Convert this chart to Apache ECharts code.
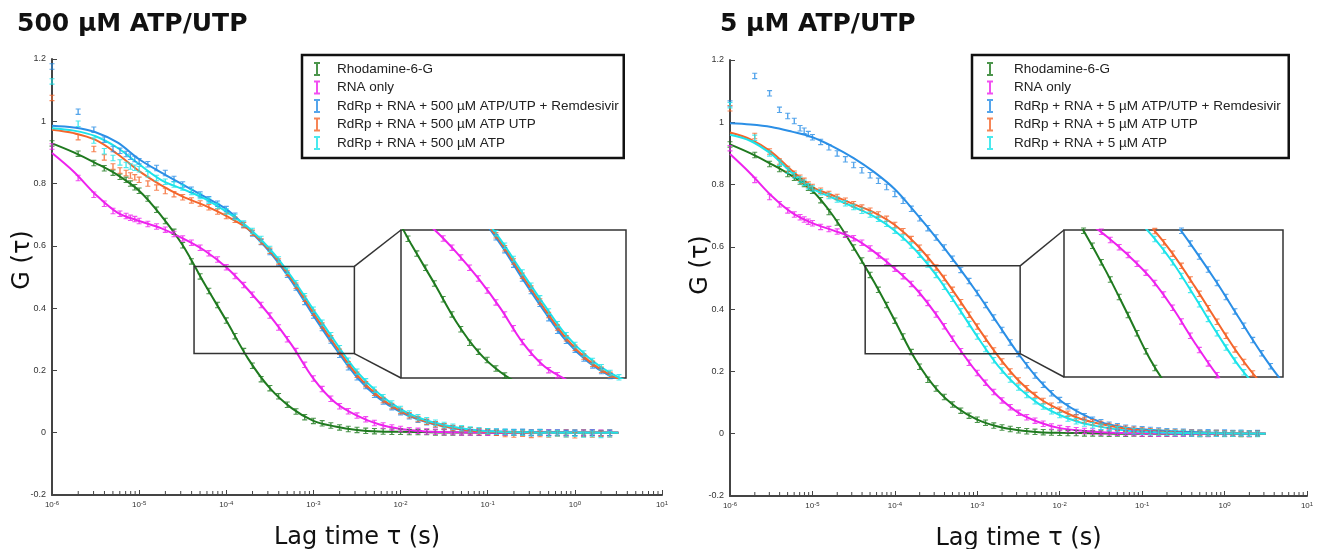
<!DOCTYPE html>
<html><head><meta charset="utf-8">
<script src="https://cdn.jsdelivr.net/npm/echarts@6/dist/echarts.min.js"></script>
<style>html,body{margin:0;padding:0;background:#fff}#c{width:1322px;height:549px}</style>
</head><body><div id="c"></div><script>
// ---- data (x = log10 of lag time in s) ----
const lagExp = [-6,-5.7,-5.52,-5.4,-5.3,-5.22,-5.15,-5.1,-5.05,-5,-4.9,-4.8,-4.7,-4.6,-4.5,-4.4,-4.3,-4.2,-4.1,-4,-3.9,-3.8,-3.7,-3.6,-3.5,-3.4,-3.3,-3.2,-3.1,-3,-2.9,-2.8,-2.7,-2.6,-2.5,-2.4,-2.3,-2.2,-2.1,-2,-1.9,-1.8,-1.7,-1.6,-1.5,-1.4,-1.3,-1.2,-1.1,-1,-0.9,-0.8,-0.7,-0.6,-0.5,-0.4,-0.3,-0.2,-0.1,0,0.1,0.2,0.3,0.4];
const fitExp = [-6,-5.75,-5.5,-5.25,-5,-4.75,-4.5,-4.25,-4,-3.75,-3.5,-3.25,-3,-2.75,-2.5,-2.25,-2,-1.75,-1.5,-1.25,-1,-0.5,0,0.5];
const xTickExp = [-6,-5,-4,-3,-2,-1,0,1];
const yTickValues = [-0.2,0,0.2,0.4,0.6,0.8,1,1.2];

const namesLeft = ['Rhodamine-6-G','RNA only','RdRp + RNA + 500 µM ATP/UTP + Remdesivir','RdRp + RNA + 500 µM ATP UTP','RdRp + RNA + 500 µM ATP'];
const namesRight = ['Rhodamine-6-G','RNA only','RdRp + RNA + 5 µM ATP/UTP + Remdesivir','RdRp + RNA + 5 µM ATP UTP','RdRp + RNA + 5 µM ATP'];
const titles = ['500 µM ATP/UTP','5 µM ATP/UTP'];

// Left panel (500 µM)
const leftGreen = [0.929,0.896,0.866,0.849,0.835,0.822,0.812,0.80,0.788,0.777, 0.752,0.716,0.68,0.645,0.602,0.55,0.502,0.455,0.41,0.36, 0.31,0.262,0.215,0.172,0.143,0.117,0.09,0.068,0.05,0.038, 0.03,0.023,0.017,0.012,0.009,0.006,0.005,0.004,0.003,0.003, 0.002,0.002,0.002,0.001,0.001,0.001,0.001,0.001,0,0.001, 0,0.001,0,0.001,0,0.001,0,-0.001,0.001,0, 0.001,0,-0.001,0];
const leftMagenta = [0.919,0.818,0.764,0.735,0.712,0.703,0.696,0.69,0.686,0.68, 0.67,0.662,0.652,0.638,0.624,0.61,0.594,0.576,0.556,0.531, 0.503,0.474,0.443,0.41,0.376,0.338,0.3,0.262,0.218,0.174, 0.14,0.109,0.085,0.069,0.055,0.043,0.031,0.023,0.017,0.012, 0.008,0.006,0.004,0.003,0.002,0.002,0.001,0.001,0.001,0, 0.001,0,0.001,0,-0.001,0,0.001,0,0,-0.001, 0,0.001,0,-0.001];
const leftBlue = [1.176,1.031,0.973,0.941,0.911,0.905,0.895,0.886,0.879,0.872, 0.862,0.85,0.834,0.815,0.797,0.78,0.765,0.75,0.735,0.718, 0.697,0.668,0.64,0.612,0.58,0.545,0.507,0.466,0.42,0.376, 0.336,0.296,0.25,0.21,0.178,0.15,0.122,0.1,0.082,0.066, 0.053,0.042,0.034,0.026,0.02,0.014,0.01,0.008,0.006,0.005, 0.004,0.003,0.002,0.003,0.001,0.002,0,0.001,-0.002,0, -0.003,0.001,-0.002,0];
const leftOrange = [1.075,0.949,0.911,0.884,0.855,0.842,0.834,0.826,0.82,0.812, 0.8,0.787,0.776,0.766,0.756,0.746,0.736,0.724,0.71,0.696, 0.684,0.666,0.642,0.614,0.584,0.55,0.513,0.472,0.43,0.385, 0.344,0.303,0.26,0.22,0.186,0.156,0.128,0.105,0.086,0.07, 0.056,0.044,0.035,0.027,0.021,0.015,0.011,0.008,0.005,0.003, 0,-0.004,-0.006,-0.003,-0.007,-0.004,-0.006,-0.002,-0.005,-0.008, -0.004,-0.006,-0.003,-0.005];
const leftCyan = [1.128,0.992,0.938,0.904,0.882,0.868,0.86,0.855,0.851,0.846, 0.83,0.818,0.806,0.797,0.787,0.773,0.76,0.745,0.728,0.71, 0.693,0.672,0.648,0.622,0.59,0.556,0.52,0.48,0.438,0.395, 0.353,0.313,0.271,0.231,0.196,0.165,0.138,0.114,0.094,0.076, 0.062,0.05,0.04,0.032,0.025,0.019,0.014,0.01,0.007,0.005, 0.003,0.002,0.001,0,-0.002,0.001,-0.004,-0.002,-0.005,-0.003, -0.006,-0.004,-0.007,-0.005];
const leftGreenFit = [0.929,0.9,0.866,0.828,0.777,0.698,0.602,0.478,0.36,0.238,0.143,0.079,0.038,0.02,0.009,0.004,0.003,0.002,0.001,0.001,0,0,0,0];
const leftMagentaFit = [0.898,0.838,0.765,0.707,0.68,0.657,0.624,0.585,0.531,0.459,0.376,0.282,0.174,0.097,0.055,0.027,0.012,0.005,0.002,0.001,0,0,0,0];
const leftBlueFit = [0.986,0.98,0.965,0.932,0.878,0.836,0.797,0.758,0.718,0.654,0.58,0.486,0.376,0.272,0.178,0.111,0.066,0.038,0.02,0.009,0.005,0.002,0.001,0];
const leftOrangeFit = [0.973,0.962,0.94,0.895,0.84,0.795,0.758,0.73,0.696,0.654,0.584,0.493,0.385,0.281,0.186,0.116,0.07,0.04,0.021,0.009,0.003,0,0,0];
const leftCyanFit = [0.978,0.97,0.952,0.915,0.862,0.812,0.782,0.752,0.71,0.66,0.59,0.5,0.395,0.292,0.196,0.126,0.076,0.044,0.025,0.012,0.005,0.001,0,0];

// Right panel (5 µM)
const rightGreen = [0.929,0.895,0.866,0.85,0.834,0.822,0.81,0.802,0.79,0.78, 0.75,0.712,0.678,0.64,0.598,0.556,0.51,0.462,0.413,0.363, 0.312,0.262,0.215,0.173,0.145,0.118,0.094,0.074,0.058,0.045, 0.035,0.026,0.02,0.015,0.011,0.008,0.006,0.005,0.004,0.003, 0.002,0.002,0.001,0.001,0.001,0,0.001,0,0.001,0, 0,0.001,0,0,0.001,0,-0.001,0,0.001,0, 0,-0.001,0,0.001];
const rightMagenta = [0.917,0.815,0.76,0.737,0.717,0.704,0.695,0.688,0.681,0.676, 0.664,0.657,0.649,0.639,0.628,0.613,0.595,0.572,0.552,0.53, 0.506,0.481,0.452,0.42,0.383,0.345,0.305,0.265,0.228,0.195, 0.164,0.134,0.107,0.085,0.067,0.053,0.042,0.032,0.023,0.018, 0.014,0.011,0.009,0.007,0.005,0.004,0.003,0.002,0.002,0.001, 0.001,0,0.001,0,0,0.001,0,-0.001,0,0, 0.001,0,-0.001,0];
const rightBlue = [1.06,1.149,1.093,1.04,1.02,1.004,0.981,0.973,0.962,0.952, 0.937,0.92,0.9,0.881,0.863,0.846,0.83,0.812,0.792,0.77, 0.748,0.722,0.692,0.66,0.63,0.598,0.562,0.526,0.49,0.452, 0.413,0.373,0.333,0.293,0.256,0.22,0.187,0.157,0.13,0.108, 0.088,0.07,0.056,0.045,0.037,0.029,0.024,0.019,0.016,0.014, 0.012,0.01,0.008,0.007,0.006,0.005,0.004,0.005,0.003,0.004, 0.002,0.003,0.001,0.002];
const rightOrange = [1.045,0.956,0.906,0.874,0.85,0.835,0.822,0.812,0.8,0.792, 0.78,0.77,0.76,0.748,0.737,0.726,0.716,0.704,0.69,0.67, 0.65,0.625,0.597,0.566,0.534,0.5,0.462,0.422,0.382,0.344, 0.305,0.267,0.232,0.2,0.171,0.146,0.124,0.105,0.09,0.077, 0.064,0.052,0.044,0.037,0.031,0.025,0.02,0.016,0.013,0.01, 0.008,0.006,0.005,0.004,0.003,0.003,0.002,0.001,0.002,0, 0.001,0,-0.001,0];
const rightCyan = [1.055,0.95,0.9,0.87,0.845,0.83,0.816,0.806,0.795,0.787, 0.775,0.763,0.752,0.74,0.728,0.716,0.704,0.69,0.674,0.652, 0.63,0.604,0.575,0.543,0.51,0.472,0.433,0.393,0.352,0.312, 0.272,0.236,0.203,0.174,0.148,0.124,0.104,0.087,0.072,0.06, 0.049,0.04,0.033,0.027,0.022,0.018,0.014,0.011,0.008,0.006, 0.005,0.004,0.003,0.002,0.002,0.001,0,0.001,0,-0.001, 0,0.001,0,-0.001];
const rightGreenFit = [0.929,0.9,0.866,0.828,0.78,0.7,0.598,0.486,0.363,0.238,0.145,0.084,0.045,0.023,0.011,0.005,0.003,0.002,0.001,0,0,0,0,0];
const rightMagentaFit = [0.898,0.835,0.765,0.71,0.676,0.653,0.628,0.584,0.53,0.467,0.383,0.285,0.195,0.12,0.067,0.037,0.018,0.01,0.005,0.002,0.001,0,0,0];
const rightBlueFit = [0.997,0.993,0.985,0.97,0.952,0.922,0.885,0.84,0.785,0.71,0.63,0.544,0.452,0.353,0.256,0.172,0.108,0.066,0.037,0.022,0.014,0.006,0.002,0];
const rightOrangeFit = [0.967,0.945,0.905,0.845,0.792,0.765,0.737,0.71,0.67,0.611,0.534,0.442,0.344,0.25,0.171,0.114,0.077,0.048,0.031,0.018,0.01,0.003,0.001,0];
const rightCyanFit = [0.96,0.94,0.898,0.838,0.787,0.757,0.728,0.697,0.652,0.59,0.51,0.413,0.312,0.219,0.148,0.095,0.06,0.036,0.022,0.012,0.006,0.002,0.001,0];

// zoom boxes (data coords in the main panels) and inset axis ranges
const zoomBoxLeft = [-4.37, -2.53, 0.254, 0.534];   // xmin, xmax, ymin, ymax
const zoomBoxRight = [-4.36, -2.48, 0.257, 0.539];
const insetLeftRange = [-4.38, -1.82, 0.06, 0.53];
const insetRightRange = [-4.72, -2.26, 0.19, 0.6];

const colors = ['#1f7a1f','#ee22ee','#2b8fe6','#f4662c','#1de3ea'];
// ---- chart ----
const chart = echarts.init(document.getElementById('c'), null, {renderer:'canvas'});
const markerPath = 'path://M0,0H5V1.3H3.2V6.7H5V8H0V6.7H1.8V1.3H0Z';
const iconLeft = 'path://M0,0h0.1v0.1h-0.1Z M2,0H8V2H6V12H8V14H2V12H4V2H2Z M19.9,13.9h0.1v0.1h-0.1Z';
const iconRight = 'path://M0,0h0.1v0.1h-0.1Z M2,0H8V2H6V12H8V14H2V12H4V2H2Z M23.9,13.9h0.1v0.1h-0.1Z';

const minorTickExp = [];
for (let n = xTickExp[0]; n < xTickExp[xTickExp.length-1]; n++) for (let k = 2; k <= 9; k++) minorTickExp.push(n + Math.log10(k));

function mainX(g){ return {gridIndex:g, type:'value', min:xTickExp[0], max:xTickExp[xTickExp.length-1], interval:1,
  axisLine:{show:true, onZero:false, lineStyle:{color:'#444', width:2}},
  axisTick:{show:true, inside:true, length:5, lineStyle:{color:'#444', width:1}},
  splitLine:{show:false},
  axisLabel:{show:true, margin:5, formatter:v=>'10{s|'+Math.round(v)+'}', color:'#333', fontFamily:'Liberation Sans', fontSize:8,
    rich:{s:{fontSize:6, verticalAlign:'top', fontFamily:'Liberation Sans', color:'#333', padding:[0,0,4,0]}}},
  name:'Lag time τ (s)', nameLocation:'middle', nameGap:31,
  nameTextStyle:{fontFamily:'DejaVu Sans', fontSize:24, color:'#111'}}; }
function mainY(g){ return {gridIndex:g, type:'value', min:yTickValues[0], max:yTickValues[yTickValues.length-1], interval:0.2,
  axisLine:{show:true, onZero:false, lineStyle:{color:'#444', width:2}},
  axisTick:{show:true, inside:true, length:5, lineStyle:{color:'#444', width:1}},
  splitLine:{show:false},
  axisLabel:{show:true, margin:6, formatter:v=>String(Math.round(v*10)/10), color:'#333', fontFamily:'Liberation Sans', fontSize:9}}; }
function insetAxis(g, lo, hi){ return {gridIndex:g, type:'value', min:lo, max:hi, show:false, splitLine:{show:false}}; }

const series = [];
function addPanel(names, dataSets, fitSets, mainIdx, insetIdx){
  names.forEach((n,i)=>{ [mainIdx, insetIdx].forEach(g=>{
    series.push({type:'line', name:n+' fit', xAxisIndex:g, yAxisIndex:g, data:fitExp.map((x,j)=>[x, fitSets[i][j]]),
      smooth:0.35, showSymbol:false, symbol:'none', lineStyle:{color:colors[i], width:2}, itemStyle:{color:colors[i]}, silent:true, z:2, clip:true});
  }); });
  names.forEach((n,i)=>{ [mainIdx, insetIdx].forEach(g=>{
    series.push({type:'scatter', name:n, xAxisIndex:g, yAxisIndex:g, data:lagExp.map((x,j)=>[x, dataSets[i][j]]),
      symbol:markerPath, symbolSize:[5,6.5], itemStyle:{color:colors[i]}, silent:true, z:3, clip:true});
  }); });
  series.push({type:'custom', xAxisIndex:mainIdx, yAxisIndex:mainIdx, silent:true, z:4,
    data:minorTickExp.map(v=>[v, yTickValues[0]]), encode:{x:0,y:1},
    renderItem:(p, api)=>{ const c = api.coord([api.value(0), api.value(1)]);
      return {type:'line', shape:{x1:c[0], y1:c[1]-1, x2:c[0], y2:c[1]-4}, style:{stroke:'#444', lineWidth:1}}; }});
}
addPanel(namesLeft, [leftGreen,leftMagenta,leftBlue,leftOrange,leftCyan], [leftGreenFit,leftMagentaFit,leftBlueFit,leftOrangeFit,leftCyanFit], 0, 2);
addPanel(namesRight, [rightGreen,rightMagenta,rightBlue,rightOrange,rightCyan], [rightGreenFit,rightMagentaFit,rightBlueFit,rightOrangeFit,rightCyanFit], 1, 3);

function legendOf(names, left, icon, w, pad){ return {orient:'vertical', left:left, top:55, itemWidth:w, itemHeight:14, itemGap:4.5,
  padding:pad, borderColor:'#111', borderWidth:2.5, backgroundColor:'#fff', selectedMode:false,
  textStyle:{fontFamily:'Liberation Sans', fontSize:13.5, color:'#222'},
  data:names.map((n,i)=>({name:n, icon:icon, itemStyle:{color:colors[i]}}))}; }

const gridBase = {outerBoundsMode:'none', containLabel:false};
const option = {
  animation:false, backgroundColor:'#fff',
  title:[
    {text:titles[0], left:12, top:7, textStyle:{fontFamily:'DejaVu Sans', fontWeight:'bold', fontSize:25, color:'#111'}},
    {text:titles[1], left:715, top:7, textStyle:{fontFamily:'DejaVu Sans', fontWeight:'bold', fontSize:25, color:'#111'}}
  ],
  legend:[ legendOf(namesLeft, 302, iconLeft, 20, [7,5,8,10]), legendOf(namesRight, 972, iconRight, 24, [7,8,8,13]) ],
  grid:[
    Object.assign({left:52, top:59, width:610, height:436}, gridBase),
    Object.assign({left:730, top:60, width:577, height:436}, gridBase),
    Object.assign({left:401, top:230, width:225, height:148, show:true, borderColor:'#333', borderWidth:1.5, backgroundColor:'#fff'}, gridBase),
    Object.assign({left:1064, top:230, width:219, height:147, show:true, borderColor:'#333', borderWidth:1.5, backgroundColor:'#fff'}, gridBase)
  ],
  xAxis:[ mainX(0), mainX(1), insetAxis(2, insetLeftRange[0], insetLeftRange[1]), insetAxis(3, insetRightRange[0], insetRightRange[1]) ],
  yAxis:[ mainY(0), mainY(1), insetAxis(2, insetLeftRange[2], insetLeftRange[3]), insetAxis(3, insetRightRange[2], insetRightRange[3]) ],
  series:series
};
chart.setOption(option);

function zoomGraphics(g, box, ig, range){
  const a = chart.convertToPixel({gridIndex:g}, [box[0], box[3]]);
  const b = chart.convertToPixel({gridIndex:g}, [box[1], box[2]]);
  const c = chart.convertToPixel({gridIndex:ig}, [range[0], range[3]]);
  const d = chart.convertToPixel({gridIndex:ig}, [range[0], range[2]]);
  const st = {stroke:'#333', lineWidth:1.5, fill:null};
  return [
    {type:'rect', shape:{x:a[0], y:a[1], width:b[0]-a[0], height:b[1]-a[1]}, style:{stroke:'#333', lineWidth:1.5, fill:'rgba(0,0,0,0)'}, z:10, silent:true},
    {type:'line', shape:{x1:b[0], y1:a[1], x2:c[0], y2:c[1]}, style:st, z:10, silent:true},
    {type:'line', shape:{x1:b[0], y1:b[1], x2:d[0], y2:d[1]}, style:st, z:10, silent:true}
  ];
}
const yNameStyle = {text:'G (τ)', fontFamily:'DejaVu Sans', fontSize:24, fill:'#111', align:'center', verticalAlign:'middle'};
chart.setOption({graphic:[].concat(
  zoomGraphics(0, zoomBoxLeft, 2, insetLeftRange),
  zoomGraphics(1, zoomBoxRight, 3, insetRightRange),
  [{type:'text', x:23, y:260, rotation:Math.PI/2, style:yNameStyle, silent:true},
   {type:'text', x:701, y:265, rotation:Math.PI/2, style:yNameStyle, silent:true}]
)});
</script></body></html>
